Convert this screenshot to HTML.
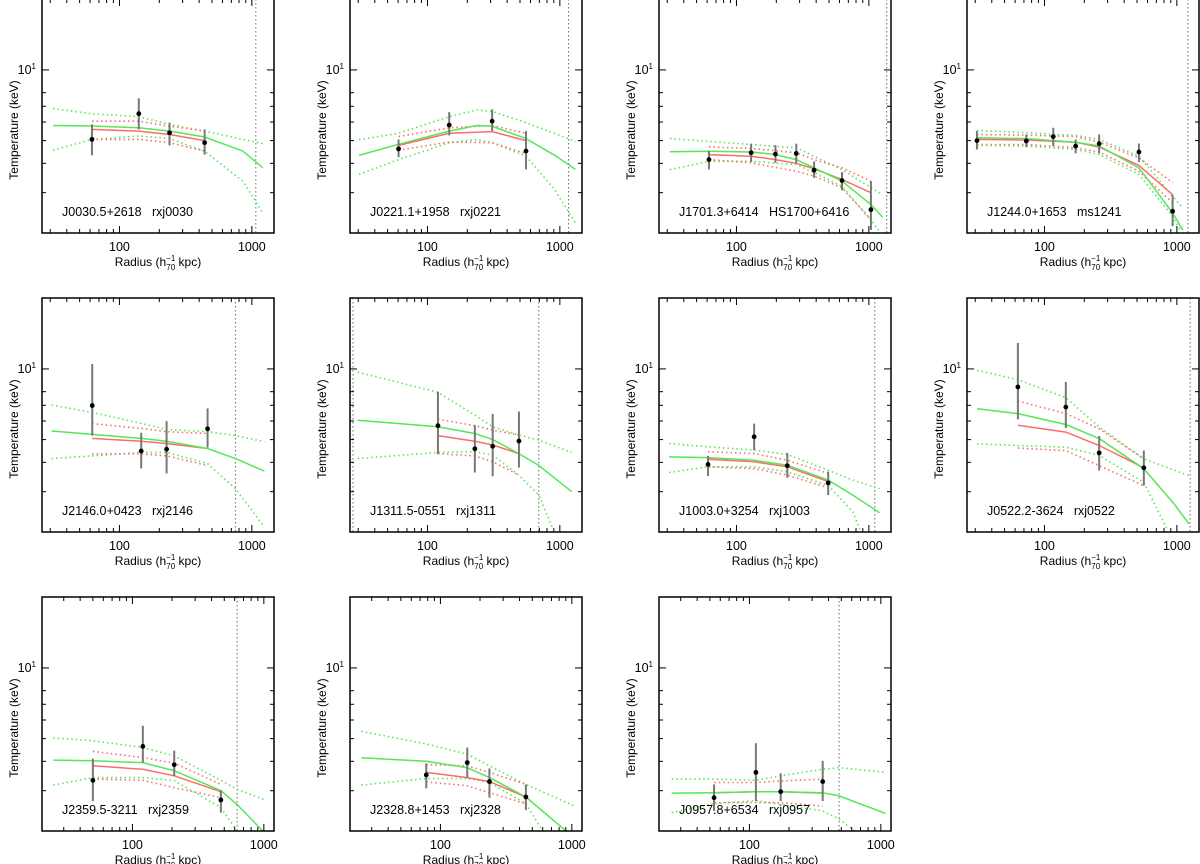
<!DOCTYPE html>
<html><head><meta charset="utf-8"><style>
html,body{margin:0;padding:0;background:#fff;}
svg{display:block;font-family:"Liberation Sans",sans-serif;}
.nm{white-space:pre;}
</style></head><body>
<svg id="fig" width="1200" height="864" viewBox="0 0 1200 864" xmlns="http://www.w3.org/2000/svg"></svg>
<script>
// ---- Panel 1: J0030.5+2618 rxj0030 ----
const p1_r = [62,140,239,440];
const p1_T = [5.06,6.51,5.4,4.9];
const p1_lo = [4.33,5.58,4.77,4.36];
const p1_hi = [5.86,7.57,5.96,5.58];
const p1_g = [[31.5,5.8],[62,5.77],[140,5.67],[239,5.49],[440,5.18],[855,4.51],[1210,3.83]];
const p1_gu = [[31.5,6.84],[62,6.5],[140,6.32],[239,5.86],[440,5.49],[855,5.06],[1210,4.86]];
const p1_gl = [[31.5,4.55],[62,5.06],[140,5.23],[239,5.1],[440,4.51],[855,3.36],[1210,2.46]];
const p1_rd = [[62,5.58],[140,5.49],[239,5.31],[440,5.0]];
const p1_ru = [[62,6.05],[140,6.05],[239,5.76],[440,5.49]];
const p1_rl = [[62,5.06],[140,5.06],[239,4.9],[440,4.51]];
const p1_v = [1072];
// ---- Panel 2: J0221.1+1958 rxj0221 ----
const p2_r = [60.5,146,308,555];
const p2_T = [4.61,5.82,6.05,4.51];
const p2_lo = [4.25,5.26,5.49,3.77];
const p2_hi = [5.05,6.61,6.79,5.49];
const p2_g = [[30.4,4.33],[60.5,4.82],[146,5.49],[236,5.8],[308,5.75],[555,5.1],[914,4.33],[1310,3.77]];
const p2_gu = [[30.4,5.05],[60.5,5.37],[146,6.32],[236,6.75],[308,6.65],[555,5.96],[1310,4.97]];
const p2_gl = [[30.4,3.59],[60.5,4.15],[146,4.9],[236,5.05],[308,4.9],[555,4.29],[914,3.09],[1310,2.23]];
const p2_rd = [[60.5,4.77],[146,5.37],[308,5.46],[555,5.0]];
const p2_ru = [[60.5,5.2],[146,5.67],[308,5.8],[555,5.37]];
const p2_rl = [[60.5,4.55],[146,4.93],[308,4.9],[555,4.4]];
const p2_v = [1165];
// ---- Panel 3: J1701.3+6414 HS1700+6416 ----
const p3_r = [62,129,197,283,386,627,1037];
const p3_T = [4.15,4.44,4.38,4.41,3.74,3.38,2.54];
const p3_lo = [3.77,4.05,4.02,4.0,3.47,3.07,2.08];
const p3_hi = [4.51,4.85,4.78,4.85,4.08,3.67,3.36];
const p3_g = [[31.4,4.48],[62,4.5],[129,4.47],[197,4.36],[283,4.15],[386,3.83],[627,3.36],[1037,2.67],[1271,2.36]];
const p3_gu = [[31.4,5.1],[129,4.81],[283,4.66],[386,4.29],[627,3.76],[1037,3.15],[1271,2.94]];
const p3_gl = [[31.4,3.76],[62,4.08],[129,4.08],[283,3.95],[386,3.65],[627,3.19],[1037,2.3],[1200,2.05]];
const p3_rd = [[62,4.36],[129,4.29],[197,4.15],[283,4.0],[386,3.79],[627,3.41],[1037,3.0]];
const p3_ru = [[62,4.7],[129,4.63],[283,4.44],[386,4.15],[627,3.83],[1037,3.36]];
const p3_rl = [[62,4.15],[129,4.02],[283,3.7],[386,3.53],[627,3.15],[1037,2.3]];
const p3_v = [1364];
// ---- Panel 4: J1244.0+1653 ms1241 ----
const p4_r = [30.9,72.9,116.5,172,259,517,929];
const p4_T = [5.0,4.98,5.2,4.74,4.85,4.47,2.5];
const p4_lo = [4.58,4.69,4.74,4.41,4.41,4.05,2.16];
const p4_hi = [5.49,5.31,5.67,5.06,5.31,4.86,2.94];
const p4_g = [[30.9,5.14],[72.9,5.1],[172,4.92],[259,4.74],[517,3.83],[659,3.19],[929,2.46],[1110,2.08]];
const p4_gu = [[30.9,5.52],[72.9,5.4],[172,5.26],[259,5.06],[517,4.29],[929,2.9],[1110,2.58]];
const p4_gl = [[30.9,4.77],[72.9,4.74],[172,4.58],[259,4.36],[517,3.59],[929,2.38],[1060,2.08]];
const p4_rd = [[30.9,5.06],[72.9,5.03],[172,4.92],[259,4.69],[517,3.92],[929,2.94]];
const p4_ru = [[30.9,5.31],[72.9,5.27],[172,5.2],[259,4.92],[517,4.22],[929,3.31]];
const p4_rl = [[30.9,4.81],[72.9,4.81],[172,4.66],[259,4.47],[517,3.7],[929,2.72]];
const p4_v = [1212];
// ---- Panel 5: J2146.0+0423 rxj2146 ----
const p5_r = [62.3,146,227,463];
const p5_T = [6.98,4.47,4.55,5.56];
const p5_lo = [5.2,3.77,3.59,4.63];
const p5_hi = [10.5,5.35,5.99,6.79];
const p5_g = [[30.8,5.44],[62.3,5.26],[146,5.06],[227,4.92],[463,4.58],[751,4.15],[1245,3.67]];
const p5_gu = [[30.8,7.02],[62.3,6.53],[146,5.86],[227,5.52],[463,5.4],[751,5.2],[1245,4.9]];
const p5_gl = [[30.8,4.15],[62.3,4.26],[146,4.41],[227,4.41],[463,3.95],[751,3.09],[1245,2.12]];
const p5_rd = [[62.3,5.06],[146,4.92],[227,4.81],[463,4.58]];
const p5_ru = [[62.3,5.85],[146,5.58],[227,5.4],[463,5.31]];
const p5_rl = [[62.3,4.35],[146,4.35],[227,4.26],[463,3.88]];
const p5_v = [751];
// ---- Panel 6: J1311.5-0551 rxj1311 ----
const p6_r = [120,228,311,491];
const p6_T = [5.73,4.57,4.68,4.93];
const p6_lo = [4.33,3.62,3.49,3.8];
const p6_hi = [8.0,5.76,6.43,6.58];
const p6_g = [[29.7,6.05],[120,5.67],[228,5.31],[311,5.0],[491,4.36],[693,3.88],[1228,3.0]];
const p6_gu = [[29.7,9.68],[120,7.95],[228,6.36],[311,5.67],[491,5.23],[693,4.97],[1228,4.41]];
const p6_gl = [[29.7,4.15],[120,4.41],[228,4.44],[311,4.29],[491,3.53],[693,2.9],[886,2.08]];
const p6_rd = [[120,5.2],[228,4.92],[311,4.74],[491,4.36]];
const p6_ru = [[120,6.11],[228,5.73],[311,5.49],[491,5.23]];
const p6_rl = [[120,4.36],[228,4.26],[311,4.02],[491,3.53]];
const p6_v = [27.4,693];
// ---- Panel 7: J1003.0+3254 rxj1003 ----
const p7_r = [61,136,242,493];
const p7_T = [3.92,5.14,3.87,3.27];
const p7_lo = [3.5,4.51,3.44,2.9];
const p7_hi = [4.26,5.85,4.39,3.65];
const p7_g = [[31,4.22],[61,4.19],[136,4.08],[242,3.89],[493,3.36],[757,2.9],[1205,2.44]];
const p7_gu = [[31,4.81],[61,4.66],[136,4.51],[242,4.32],[493,3.7],[757,3.36],[1205,3.09]];
const p7_gl = [[31,3.62],[61,3.83],[136,3.83],[242,3.65],[493,3.19],[757,2.46],[871,2.02]];
const p7_rd = [[61,4.12],[136,4.02],[242,3.83],[493,3.31]];
const p7_ru = [[61,4.44],[136,4.36],[242,4.08],[493,3.59]];
const p7_rl = [[61,3.83],[136,3.76],[242,3.53],[493,3.12]];
const p7_v = [1110];
// ---- Panel 8: J0522.2-3624 rxj0522 ----
const p8_r = [63,145,259,563];
const p8_T = [8.38,6.88,4.39,3.79];
const p8_lo = [6.1,5.6,3.69,3.18];
const p8_hi = [12.9,8.8,5.18,4.49];
const p8_g = [[31,6.77],[63,6.45],[145,5.8],[259,5.05],[563,3.76],[944,2.68],[1240,2.18]];
const p8_gu = [[31,9.87],[63,9.0],[145,7.55],[259,5.65],[563,4.14],[1240,3.51]];
const p8_gl = [[31,4.8],[63,4.72],[145,4.64],[259,4.28],[563,3.29],[841,2.08]];
const p8_rd = [[63,5.75],[145,5.38],[259,4.72],[563,3.79]];
const p8_ru = [[63,7.3],[145,6.45],[259,5.56],[563,4.14]];
const p8_rl = [[63,4.6],[145,4.49],[259,3.87],[563,3.18]];
const p8_v = [1260];
// ---- Panel 9: J2359.5-3211 rxj2359 ----
const p9_r = [50,120,208,471];
const p9_T = [3.32,4.63,3.87,2.74];
const p9_lo = [2.71,3.95,3.47,2.42];
const p9_hi = [4.11,5.67,4.44,3.01];
const p9_g = [[25,4.05],[50,4.02],[120,3.95],[208,3.65],[471,3.0],[626,2.62],[982,2.02]];
const p9_gu = [[25,5.03],[50,4.9],[120,4.58],[208,4.22],[471,3.32],[626,3.04],[1042,2.73]];
const p9_gl = [[25,3.17],[50,3.41],[120,3.41],[208,3.31],[471,2.54],[626,2.02]];
const p9_rd = [[50,3.83],[120,3.7],[208,3.47],[471,2.97]];
const p9_ru = [[50,4.41],[120,4.15],[208,3.93],[471,3.19]];
const p9_rl = [[50,3.36],[120,3.32],[208,3.09],[471,2.8]];
const p9_v = [626];
// ---- Panel 10: J2328.8+1453 rxj2328 ----
const p10_r = [78,160,236,447];
const p10_T = [3.5,3.95,3.28,2.82];
const p10_lo = [3.07,3.41,2.8,2.48];
const p10_hi = [3.92,4.58,3.73,3.19];
const p10_g = [[25,4.14],[78,4.0],[160,3.76],[236,3.41],[447,2.82],[904,2.02]];
const p10_gu = [[25,5.37],[78,4.74],[160,4.29],[236,3.83],[447,3.19],[1054,2.58]];
const p10_gl = [[25,3.17],[78,3.38],[160,3.38],[236,3.25],[447,2.64],[589,2.05]];
const p10_rd = [[78,3.59],[160,3.41],[236,3.28],[447,2.82]];
const p10_ru = [[78,3.87],[160,3.83],[236,3.59],[447,3.19]];
const p10_rl = [[78,3.27],[160,3.15],[236,2.94],[447,2.64]];
const p10_v = [];
// ---- Panel 11: J0957.8+6534 rxj0957 ----
const p11_r = [53.8,112,173,361];
const p11_T = [2.8,3.59,2.97,3.28];
const p11_lo = [2.46,2.71,2.71,2.71];
const p11_hi = [3.19,4.78,3.56,4.02];
const p11_g = [[25.6,2.93],[54,2.94],[112,2.97],[173,2.97],[361,2.94],[481,2.85],[1087,2.4]];
const p11_gu = [[25.6,3.36],[54,3.36],[112,3.32],[173,3.47],[361,3.7],[481,3.76],[1087,3.59]];
const p11_gl = [[25.6,2.42],[54,2.64],[112,2.72],[173,2.62],[361,2.46],[481,2.27],[634,2.02]];
const p11_rd = [[54,2.94],[112,2.97],[173,2.97],[361,2.93]];
const p11_ru = [[54,3.25],[112,3.25],[173,3.3],[361,3.36]];
const p11_rl = [[54,2.67],[112,2.67],[173,2.67],[361,2.58]];
const p11_v = [481];

const names = ["J0030.5+2618   rxj0030","J0221.1+1958   rxj0221","J1701.3+6414   HS1700+6416","J1244.0+1653   ms1241",
 "J2146.0+0423   rxj2146","J1311.5-0551   rxj1311","J1003.0+3254   rxj1003","J0522.2-3624   rxj0522",
 "J2359.5-3211   rxj2359","J2328.8+1453   rxj2328","J0957.8+6534   rxj0957"];
const xMajorTicks = [100,1000];
const xMinorTicks = [20,30,40,50,60,70,80,90,200,300,400,500,600,700,800,900];
const yMajorTicks = [10];
const yMinorTicks = [3,4,5,6,7,8];
const xRangeTop = [26,1470];
const xRangeBottom = [20.5,1195];
const yRange = [2.02,20.05];

const panels = [
 [p1_r,p1_T,p1_lo,p1_hi,p1_g,p1_gu,p1_gl,p1_rd,p1_ru,p1_rl,p1_v],
 [p2_r,p2_T,p2_lo,p2_hi,p2_g,p2_gu,p2_gl,p2_rd,p2_ru,p2_rl,p2_v],
 [p3_r,p3_T,p3_lo,p3_hi,p3_g,p3_gu,p3_gl,p3_rd,p3_ru,p3_rl,p3_v],
 [p4_r,p4_T,p4_lo,p4_hi,p4_g,p4_gu,p4_gl,p4_rd,p4_ru,p4_rl,p4_v],
 [p5_r,p5_T,p5_lo,p5_hi,p5_g,p5_gu,p5_gl,p5_rd,p5_ru,p5_rl,p5_v],
 [p6_r,p6_T,p6_lo,p6_hi,p6_g,p6_gu,p6_gl,p6_rd,p6_ru,p6_rl,p6_v],
 [p7_r,p7_T,p7_lo,p7_hi,p7_g,p7_gu,p7_gl,p7_rd,p7_ru,p7_rl,p7_v],
 [p8_r,p8_T,p8_lo,p8_hi,p8_g,p8_gu,p8_gl,p8_rd,p8_ru,p8_rl,p8_v],
 [p9_r,p9_T,p9_lo,p9_hi,p9_g,p9_gu,p9_gl,p9_rd,p9_ru,p9_rl,p9_v],
 [p10_r,p10_T,p10_lo,p10_hi,p10_g,p10_gu,p10_gl,p10_rd,p10_ru,p10_rl,p10_v],
 [p11_r,p11_T,p11_lo,p11_hi,p11_g,p11_gu,p11_gl,p11_rd,p11_ru,p11_rl,p11_v]
];

const NS = "http://www.w3.org/2000/svg";
const svg = document.getElementById('fig');
const colLeft = [42,350,659,967], rowTop = [-1,298,597];
const W = 232, H = 234;
const GREEN = "#55e855", RED = "#ff6b6b";
function mk(tag, attrs, parent){ const e=document.createElementNS(NS,tag); for(const k in attrs) e.setAttribute(k,attrs[k]); (parent||svg).appendChild(e); return e; }

panels.forEach((p,i)=>{
  const row = Math.floor(i/4), col = i%4;
  const L = colLeft[col], T0 = rowTop[row];
  const xr = row===2 ? xRangeBottom : xRangeTop;
  const xs = v => L + (Math.log10(v)-Math.log10(xr[0]))/(Math.log10(xr[1])-Math.log10(xr[0]))*W;
  const ys = v => T0 + H - (Math.log10(v)-Math.log10(yRange[0]))/(Math.log10(yRange[1])-Math.log10(yRange[0]))*H;
  const g = mk('g',{});
  
  
  const clipId='clip'+i;
  const cp = mk('clipPath',{id:clipId},g); mk('rect',{x:L,y:T0,width:W,height:H},cp);
  const plot = mk('g',{'clip-path':'url(#'+clipId+')'},g);
  const path = (pts,color,dash,name)=>{
    const d = pts.map((q,k)=>(k?'L':'M')+xs(q[0]).toFixed(1)+' '+ys(q[1]).toFixed(1)).join(' ');
    const e = mk('path',{d:d,fill:'none',stroke:color,'stroke-width':dash?1.6:1.5},plot);
    if(dash) e.setAttribute('stroke-dasharray','1.5 3');
    
    
  };
  p[10].forEach(v=>{
    const e = mk('line',{x1:xs(v),x2:xs(v),y1:T0,y2:T0+H,stroke:'#666','stroke-width':1,'stroke-dasharray':'1.5 2.5'},plot);
    
    
  });
  path(p[5],GREEN,true,'model-upper-bound');
  path(p[6],GREEN,true,'model-lower-bound');
  path(p[8],RED,true,'fit-upper-bound');
  path(p[9],RED,true,'fit-lower-bound');
  path(p[7],RED,false,'fit-curve');
  path(p[4],GREEN,false,'model-curve');
  p[0].forEach((r,k)=>{
    const e = mk('line',{x1:xs(r),x2:xs(r),y1:ys(p[2][k]),y2:ys(p[3][k]),stroke:'#777','stroke-width':2},plot);
    
    
    const c = mk('circle',{cx:xs(r),cy:ys(p[1][k]),r:2.4,fill:'#000'},plot);
    
    
  });
  const fr = mk('rect',{x:L,y:T0,width:W,height:H,fill:'none',stroke:'#000','stroke-width':1.5},g);
  
  
  const tick=(x1,y1,x2,y2)=>mk('line',{x1,y1,x2,y2,stroke:'#000','stroke-width':1},g);
  xMinorTicks.forEach(v=>{ if(v<xr[0]||v>xr[1])return; const x=xs(v); tick(x,T0+H,x,T0+H-4); tick(x,T0,x,T0+4); });
  xMajorTicks.forEach(v=>{ const x=xs(v); tick(x,T0+H,x,T0+H-7); tick(x,T0,x,T0+7);
    const t=mk('text',{x:x,y:T0+H+18,'font-size':12.5,'text-anchor':'middle',fill:'#000'},g); t.textContent=String(v);
    
    
  });
  yMinorTicks.forEach(v=>{ const y=ys(v); tick(L,y,L+4,y); tick(L+W,y,L+W-4,y); });
  yMajorTicks.forEach(v=>{ const y=ys(v); tick(L,y,L+7,y); tick(L+W,y,L+W-7,y);
    const t=mk('text',{x:L-6,y:y+4,'font-size':12.5,'text-anchor':'end',fill:'#000'},g);
    t.innerHTML='10<tspan dy="-5" font-size="8">1</tspan>';
    
    
  });
  const xt = mk('text',{x:L+W/2,y:T0+H+33,'font-size':12,'text-anchor':'middle',fill:'#000'},g);
  xt.innerHTML='Radius (h<tspan dy="-5" font-size="8">−1</tspan><tspan dx="-9" dy="9" font-size="8">70</tspan><tspan dy="-4"> kpc)</tspan>';
  
  
  const yt = mk('text',{x:0,y:0,'font-size':12,'text-anchor':'middle',fill:'#000',transform:`translate(${L-24},${T0+H/2+14}) rotate(-90)`},g);
  yt.textContent='Temperature (keV)';
  
  
  const nm = mk('text',{x:L+20,y:T0+217,'font-size':12.5,fill:'#000','class':'nm'},g);
  nm.textContent=names[i];
  
  
});
</script>
</body></html>
